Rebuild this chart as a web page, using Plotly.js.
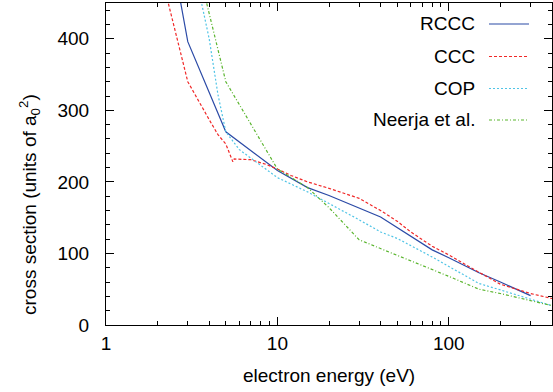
<!DOCTYPE html>
<html>
<head>
<meta charset="utf-8">
<script src="https://cdn.plot.ly/plotly-3.0.1.min.js"></script>
<style>html,body{margin:0;padding:0;background:#fff;}#chart{width:553px;height:392px;}</style>
</head>
<body>
<div id="chart"></div>
<script>
// Data
const seriesNames = ["RCCC", "CCC", "COP", "Neerja et al."];

const rcccEnergy = [2.5, 3, 5, 10, 15, 20, 40, 80, 100, 150, 200, 300];
const rcccCross  = [500, 396, 270, 216, 192, 181, 151, 105, 94, 73, 60, 41];

const cccEnergy = [2, 3, 4, 4.5, 5, 5.5, 5.6, 7, 8.7, 10, 12, 15, 20, 30, 40, 50, 60, 80, 100, 130, 200, 300, 400];
const cccCross  = [510, 340, 287, 266, 253, 228, 232, 231, 224, 218, 209, 200, 191, 177, 160, 145, 130, 110, 98, 82, 57, 44, 37];

const copEnergy = [3.5, 4, 4.5, 5, 6, 7.5, 10, 15, 20, 30, 40, 50, 80, 100, 150, 200, 400];
const copCross  = [465, 400, 322, 270, 245, 228, 206, 186, 170, 147, 130, 121, 95, 82, 58, 49, 27];

const neerjaEnergy = [3, 5, 10, 15, 20, 30, 100, 150, 200, 400];
const neerjaCross  = [558, 340, 218, 192, 164, 119, 68, 50, 44, 27];

const xTickVals = [1, 10, 100];
const xTickText = ["1", "10", "100"];
const xMinorVals = [2, 3, 4, 5, 6, 7, 8, 9, 20, 30, 40, 50, 60, 70, 80, 90, 200, 300];

const colors = ["#2b4aa6", "#f02828", "#50c4e6", "#5ab52e"];
const dashes = ["solid", "3px,2px", "2px,2px", "3px,2px,1px,2px"];

const xs = [rcccEnergy, cccEnergy, copEnergy, neerjaEnergy];
const ys = [rcccCross, cccCross, copCross, neerjaCross];

const FONT = "Liberation Sans, Arial, Helvetica, sans-serif";
const FS = 19;

const traces = seriesNames.map((n, i) => ({
  x: xs[i], y: ys[i], name: n, type: "scatter", mode: "lines",
  line: {color: colors[i], width: 1.2, dash: dashes[i]},
  showlegend: false, hoverinfo: "skip", cliponaxis: true
}));

// plot area geometry (px) for legend placement helpers
const L = 106, R = 1, T = 3, B = 67, W = 553, H = 392;
const pw = W - L - R, ph = H - T - B;
const px2x = p => (p - L) / pw;
const py2y = p => (H - B - p) / ph;

const legendRows = [24, 56.5, 88.5, 120];
const annotations = [];
const shapes = [];
seriesNames.forEach((n, i) => {
  annotations.push({
    xref: "paper", yref: "paper", x: px2x(477), y: py2y(legendRows[i]),
    xanchor: "right", yanchor: "middle", text: n, showarrow: false,
    font: {family: FONT, size: FS, color: "#000"}
  });
  shapes.push({
    type: "line", xref: "paper", yref: "paper",
    x0: px2x(489), x1: px2x(529), y0: py2y(legendRows[i]), y1: py2y(legendRows[i]),
    line: {color: colors[i], width: 1.2, dash: dashes[i]}
  });
});
annotations.push({
  xref: "paper", yref: "paper", x: px2x(29), y: py2y(205),
  xanchor: "center", yanchor: "middle", textangle: -90,
  text: "cross section (units of a<sub>0</sub><sup>2</sup>)", showarrow: false,
  font: {family: FONT, size: FS, color: "#000"}
});
annotations.push({
  xref: "paper", yref: "paper", x: 0.5, y: py2y(375),
  xanchor: "center", yanchor: "middle",
  text: "electron energy (eV)", showarrow: false,
  font: {family: FONT, size: FS, color: "#000"}
});

const layout = {
  width: W, height: H,
  margin: {l: L, r: R, t: T, b: B, pad: 0},
  paper_bgcolor: "#fff", plot_bgcolor: "#fff",
  font: {family: FONT, size: FS, color: "#000"},
  showlegend: false,
  xaxis: {
    type: "log", range: [0, Math.log10(400)],
    tickvals: xTickVals, ticktext: xTickText,
    ticks: "inside", ticklen: 8, tickwidth: 1, tickcolor: "#000",
    minor: {ticks: "inside", ticklen: 4, tickwidth: 1, tickcolor: "#000", tickvals: xMinorVals, showgrid: false},
    showline: true, linecolor: "#000", linewidth: 1, mirror: "ticks",
    showgrid: false, zeroline: false,
    ticklabelstandoff: 1,
    tickfont: {family: FONT, size: FS, color: "#000"}
  },
  yaxis: {
    range: [0, 450], dtick: 100, tick0: 0,
    ticks: "inside", ticklen: 8, tickwidth: 1, tickcolor: "#000",
    minor: {ticks: "inside", ticklen: 4, tickwidth: 1, tickcolor: "#000", dtick: 20, showgrid: false},
    showline: true, linecolor: "#000", linewidth: 1, mirror: "ticks",
    showgrid: false, zeroline: false,
    ticklabelstandoff: 12,
    tickfont: {family: FONT, size: FS, color: "#000"}
  },
  annotations: annotations,
  shapes: shapes
};

Plotly.newPlot("chart", traces, layout, {staticPlot: true, displayModeBar: false});
</script>
</body>
</html>
